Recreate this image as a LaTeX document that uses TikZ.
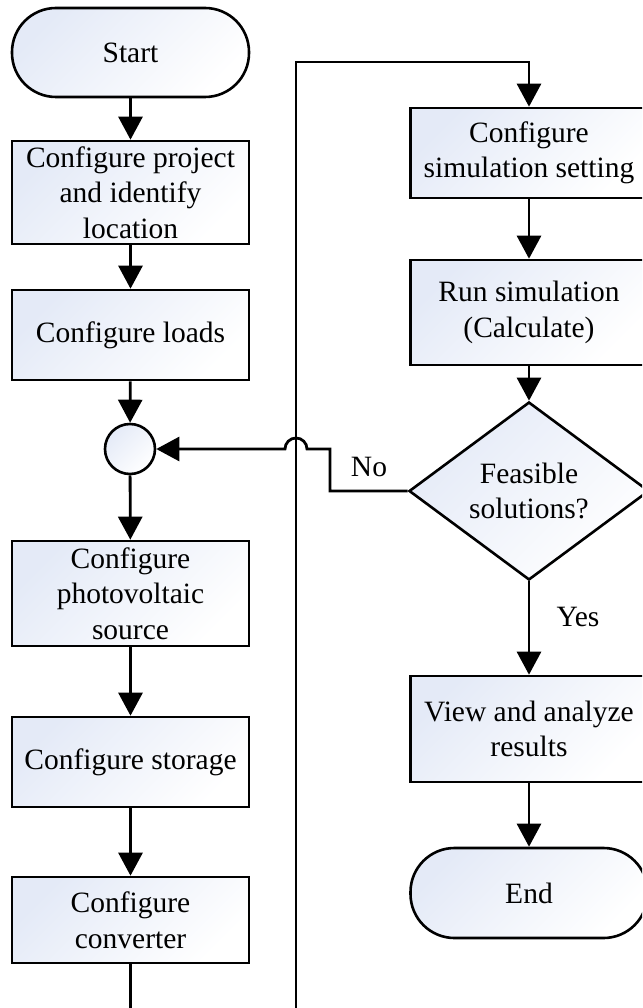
\documentclass[tikz,border=0pt]{standalone}
\usepackage{fontspec}
\setmainfont{Liberation Serif}
\usetikzlibrary{arrows.meta,shapes.geometric}
\definecolor{fillblue}{RGB}{228,234,247}
\begin{document}
\begin{tikzpicture}[x=1pt,y=-1pt,
  txt/.style={font=\fontsize{29.5}{35.5}\selectfont},
  shaded/.style={draw=black, line width=2.6pt, left color=fillblue, right color=white, shading angle=45},
  box/.style={shaded, txt, rectangle, minimum width=237pt, align=center, inner sep=0pt},
  term/.style={box, rounded corners=44pt},
  dec/.style={shaded, txt, diamond, minimum width=240pt, minimum height=178pt, align=center, inner sep=0pt},
  junc/.style={shaded, circle, minimum size=50pt, inner sep=0pt},
  conn/.style={line width=2.8pt, draw=black},
  arr/.style={conn, -{Triangle[width=24pt,length=23pt]}},
  lbl/.style={txt}
]
\useasboundingbox (0,0) rectangle (642,1008);
\clip (0,0) rectangle (642,1008);
\fill[white] (0,0) rectangle (642,1008);

% left column
\node[term, minimum height=89pt] (start) at (130.5,52.5) {Start};
\node[box, minimum height=103pt] (p1) at (130.5,192.5) {Configure project\\and identify\\location};
\node[box, minimum height=90pt] (p2) at (130.5,335) {Configure loads};
\node[junc] (c) at (130,449) {};
\node[box, minimum height=105pt] (p3) at (130.5,593.5) {Configure\\photovoltaic\\source};
\node[box, minimum height=90pt] (p4) at (130.5,762) {Configure storage};
\node[box, minimum height=86pt] (p5) at (130.5,920) {Configure\\converter};

% right column
\node[box, minimum height=90pt] (s1) at (529,153) {Configure\\simulation setting};
\node[box, minimum height=105pt] (s2) at (529,312.5) {Run simulation\\(Calculate)};
\node[dec] (d) at (529,491) {Feasible\\solutions?};
\node[box, minimum height=106pt] (s3) at (529,729) {View and analyze\\results};
\node[term, minimum height=90pt] (end) at (529,893) {End};

% corner coordinates
\coordinate (lb) at (130.5,1040);
\coordinate (lt) at (296,62);
\coordinate (n1) at (330,491);
\coordinate (n2) at (330,449);
\coordinate (h1) at (307,449);

% connectors
\draw[arr] (start) -- (p1);
\draw[arr] (p1) -- (p2);
\draw[arr] (p2) -- (c);
\draw[arr] (c) -- (p3);
\draw[arr] (p3) -- (p4);
\draw[arr] (p4) -- (p5);
\draw[arr] (p5.south) -- (lb) -| (lt) -| (s1.north);
\draw[arr] (s1) -- (s2);
\draw[arr] (s2) -- (d);
\draw[arr] (d) -- (s3);
\draw[arr] (s3) -- (end);
\draw[arr] (d.west) -- (n1) -- (n2) -- (h1) arc[start angle=0, end angle=-180, radius=11] -- (c.east);

\node[lbl] (no) at (369,467) {No};
\node[lbl] (yes) at (578,617) {Yes};
\end{tikzpicture}
\end{document}
